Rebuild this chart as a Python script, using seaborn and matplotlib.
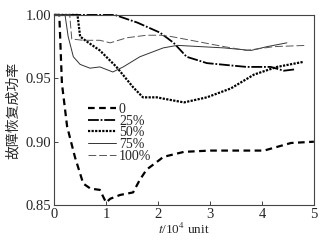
import matplotlib
matplotlib.use("Agg")
import numpy as np
import pandas as pd
import seaborn as sns
import matplotlib.pyplot as plt

# curves
x_0 = [0.0, 0.1, 0.15, 0.25, 0.4, 0.56, 0.7, 0.88, 1.0, 1.08, 1.27, 1.52, 1.65, 1.78, 2.04, 2.1, 2.5, 3.0, 4.04, 4.56, 5.0]
y_0 = [1.0, 1.0, 0.946, 0.912, 0.888, 0.867, 0.863, 0.862, 0.852, 0.855, 0.858, 0.86, 0.87, 0.878, 0.886, 0.888, 0.892, 0.893, 0.893, 0.899, 0.90]

x_25 = [0.0, 1.17, 1.6, 2.04, 2.3, 2.55, 2.94, 3.7, 4.17, 4.42, 4.62]
y_25 = [1.0, 1.0, 0.994, 0.986, 0.978, 0.967, 0.962, 0.959, 0.959, 0.956, 0.957]

x_50 = [0.0, 0.45, 0.5, 0.63, 0.88, 1.2, 1.52, 1.71, 1.98, 2.1, 2.5, 2.94, 3.4, 3.85, 4.29, 4.8]
y_50 = [1.0, 1.0, 0.983, 0.979, 0.972, 0.959, 0.943, 0.935, 0.935, 0.934, 0.931, 0.935, 0.942, 0.953, 0.959, 0.963]

x_75 = [0.0, 0.21, 0.27, 0.37, 0.5, 0.69, 0.88, 1.13, 1.33, 1.65, 2.1, 2.37, 3.27, 3.79, 4.1, 4.48]
y_75 = [1.0, 1.0, 0.983, 0.967, 0.961, 0.958, 0.959, 0.955, 0.959, 0.967, 0.974, 0.976, 0.974, 0.972, 0.975, 0.978]

x_100 = [0.0, 0.3, 0.34, 0.56, 0.88, 1.08, 1.4, 1.78, 2.04, 2.25, 3.27, 3.7, 4.23, 4.87]
y_100 = [1.0, 1.0, 0.981, 0.980, 0.98, 0.978, 0.982, 0.984, 0.984, 0.983, 0.975, 0.972, 0.975, 0.976]

labels = ["0", "25%", "50%", "75%", "100%"]
xs = [x_0, x_25, x_50, x_75, x_100]
ys = [y_0, y_25, y_50, y_75, y_100]

sns.set_style("ticks")
plt.rcParams["font.family"] = ["Liberation Serif", "Noto Sans CJK SC"]
plt.rcParams["mathtext.fontset"] = "stix"

styles = [
    dict(color="black", lw=1.6, ls=(0, (3, 2))),
    dict(color="black", lw=1.3, ls=(0, (6, 1, 1, 1))),
    dict(color="black", lw=1.6, ls=(0, (1, 0.6))),
    dict(color="#333333", lw=0.7, ls="-"),
    dict(color="#555555", lw=0.7, ls=(0, (8, 3))),
]

fig = plt.figure(figsize=(3.28, 2.41), dpi=100)
ax = fig.add_axes([0.165, 0.149, 0.792, 0.789])

for xv, yv, lab, st in zip(xs, ys, labels, styles):
    df = pd.DataFrame({"x": xv, "y": yv})
    sns.lineplot(data=df, x="x", y="y", ax=ax, label=lab, clip_on=False, **st)

ax.set_xlim(0, 5)
ax.set_ylim(0.85, 1.0)
ax.set_xticks([0, 1, 2, 3, 4, 5])
ax.set_yticks([0.85, 0.90, 0.95, 1.00])
ax.set_yticklabels(["0.85", "0.90", "0.95", "1.00"])
ax.tick_params(direction="in", length=3, labelsize=10.5, width=0.6, pad=2)
for s in ax.spines.values():
    s.set_linewidth(0.8)
    s.set_color("#444444")

ax.set_xlabel(r"$t$/10$^4$ unit", fontsize=9.5, labelpad=1)
ax.set_ylabel("故障恢复成功率", fontsize=10, family=["Noto Sans CJK SC"], labelpad=4)

leg = ax.legend(loc="upper left", bbox_to_anchor=(0.1, 0.58), frameon=False,
                fontsize=10, handlelength=2.0, handletextpad=0.2, labelspacing=-0.1,
                borderpad=0.1)

fig.savefig("out.png", dpi=100)
